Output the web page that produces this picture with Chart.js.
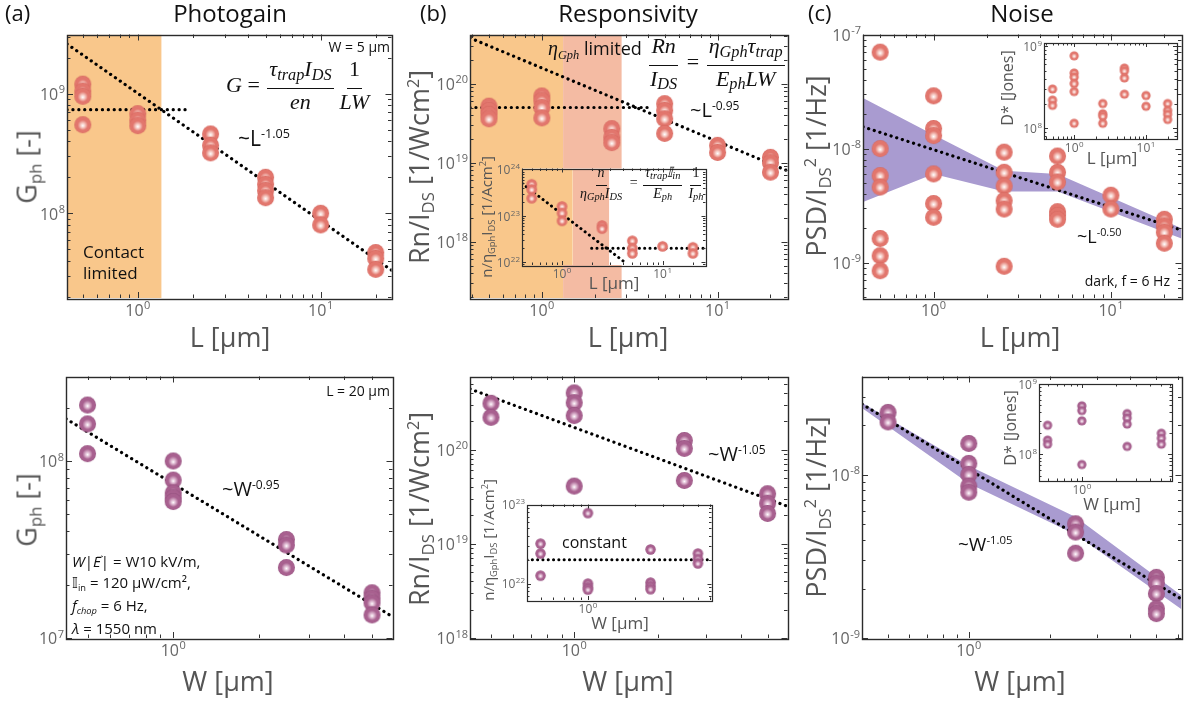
<!DOCTYPE html>
<html>
<head>
<meta charset="utf-8">
<title>Photogain / Responsivity / Noise</title>
<script src="https://cdn.jsdelivr.net/npm/chart.js"></script>
<style>
  body { margin: 0; background: #fff; }
  #fig { position: relative; width: 1192px; height: 704px; overflow: hidden; font-family: 'Open Sans', 'Noto Sans', sans-serif; }
  canvas { position: absolute; }
  .t { position: absolute; white-space: nowrap; line-height: 1; color: #111; z-index: 5; }
  .cx { transform: translateX(-50%); }
  .rot { transform: translate(-50%, -50%) rotate(-90deg); }
  .title { font-size: 24px; }
  .axt { font-size: 27px; color: #555; }
  .iaxt { font-size: 17px; color: #555; }
  .t sub { font-size: 0.62em; position: relative; top: 0.3em; vertical-align: baseline; }
  .t sup { font-size: 0.6em; position: relative; top: -0.62em; vertical-align: baseline; }
  .math { font-family: 'Liberation Serif', 'DejaVu Serif', serif; font-style: italic; display: flex; align-items: center; }
  .math sub { font-size: 0.74em; top: 0.22em; }
  .up { font-style: normal; }
  .frac { display: inline-flex; flex-direction: column; align-items: center; margin: 0 2px; }
  .frac > span { padding: 0 2px; line-height: 1.1; }
  .frac > span:first-child { border-bottom: 1.6px solid #111; padding-bottom: 0.3em; }
  .frac > span:last-child { padding-top: 0.04em; }
  .vec { position: relative; display: inline-block; }
  .vec > b { position: absolute; left: 2px; top: -7px; font-weight: normal; font-style: normal; font-size: 10px; }
</style>
</head>
<body>
<div id="fig">
  <!-- panel titles -->
  <div class="t title" style="left:5px;top:1px;font-size:22px">(a)</div>
  <div class="t title cx" style="left:230px;top:1px">Photogain</div>
  <div class="t title" style="left:420px;top:1px;font-size:22px">(b)</div>
  <div class="t title cx" style="left:628px;top:1px">Responsivity</div>
  <div class="t title" style="left:808px;top:1px;font-size:22px">(c)</div>
  <div class="t title cx" style="left:1022px;top:1px">Noise</div>

  <!-- main axis titles -->
  <div class="t axt cx" style="left:230px;top:323px">L [μm]</div>
  <div class="t axt cx" style="left:628px;top:323px">L [μm]</div>
  <div class="t axt cx" style="left:1020px;top:323px">L [μm]</div>
  <div class="t axt cx" style="left:228px;top:667px">W [μm]</div>
  <div class="t axt cx" style="left:628px;top:667px">W [μm]</div>
  <div class="t axt cx" style="left:1020px;top:667px">W [μm]</div>
  <div class="t axt rot" style="left:26px;top:167px">G<sub>ph</sub> [-]</div>
  <div class="t axt rot" style="left:418px;top:167px">Rn/I<sub>DS</sub> [1/Wcm<sup>2</sup>]</div>
  <div class="t axt rot" style="left:815px;top:166px">PSD/I<sub>DS</sub><sup>2</sup> [1/Hz]</div>
  <div class="t axt rot" style="left:26px;top:510px">G<sub>ph</sub> [-]</div>
  <div class="t axt rot" style="left:418px;top:509px">Rn/I<sub>DS</sub> [1/Wcm<sup>2</sup>]</div>
  <div class="t axt rot" style="left:815px;top:507px">PSD/I<sub>DS</sub><sup>2</sup> [1/Hz]</div>

  <!-- inset axis titles -->
  <div class="t iaxt cx" style="left:614px;top:274px">L [μm]</div>
  <div class="t iaxt rot" style="left:486px;top:217px;font-size:15px">n/η<sub>Gph</sub>I<sub>DS</sub> [1/Acm<sup>2</sup>]</div>
  <div class="t iaxt cx" style="left:1112px;top:149px">L [μm]</div>
  <div class="t iaxt rot" style="left:1007px;top:88px;font-size:16px">D* [Jones]</div>
  <div class="t iaxt cx" style="left:620px;top:614px">W [μm]</div>
  <div class="t iaxt rot" style="left:488px;top:540px;font-size:15px">n/η<sub>Gph</sub>I<sub>DS</sub> [1/Acm<sup>2</sup>]</div>
  <div class="t iaxt cx" style="left:1112px;top:495px">W [μm]</div>
  <div class="t iaxt rot" style="left:1010px;top:428px;font-size:16px">D* [Jones]</div>

  <!-- (a) annotations -->
  <div class="t" style="right:802px;top:40px;font-size:14px">W = 5 μm</div>
  <div class="t math" style="left:226px;top:57px;font-size:22px">
    <i>G</i>&nbsp;<span class="up">=</span>&nbsp;<span class="frac"><span>τ<sub>trap</sub>I<sub>DS</sub></span><span>en</span></span><span class="frac"><span class="up">1</span><span>LW</span></span>
  </div>
  <div class="t" style="left:238px;top:128px;font-size:21px">~L<sup>-1.05</sup></div>
  <div class="t" style="left:83px;top:241px;font-size:17px;line-height:21px">Contact<br>limited</div>
  <div class="t" style="right:802px;top:384px;font-size:14px">L = 20 μm</div>
  <div class="t" style="left:222px;top:479px;font-size:20px">~W<sup>-0.95</sup></div>
  <div class="t" style="left:72px;top:551px;font-size:15px;line-height:21px">
    <i>W</i>|<span class="vec"><i>E</i><b>→</b></span>| = W10 kV/m,<br>𝕀<sub>in</sub> = 120 μW/cm²,<br><i>f<sub>chop</sub></i> = 6 Hz,<br><i>λ</i> = 1550 nm
  </div>

  <!-- (b) annotations -->
  <div class="t" style="left:548px;top:38px;font-size:18px"><span style="font-family:'Liberation Serif',serif;font-style:italic;font-size:20px">η<sub>Gph</sub></span> limited</div>
  <div class="t math" style="left:646px;top:34px;font-size:22px">
    <span class="frac"><span>Rn</span><span>I<sub>DS</sub></span></span>&nbsp;<span class="up">=</span>&nbsp;<span class="frac"><span>η<sub>Gph</sub>τ<sub>trap</sub></span><span>E<sub>ph</sub>LW</span></span>
  </div>
  <div class="t" style="left:690px;top:100px;font-size:20px">~L<sup>-0.95</sup></div>
  <div class="t math" style="left:576px;top:165px;font-size:14px">
    <span class="frac"><span>n</span><span>η<sub>Gph</sub>I<sub>DS</sub></span></span>&nbsp;<span class="up">=</span>&nbsp;<span class="frac"><span>τ<sub>trap</sub>𝕀<sub>in</sub></span><span>E<sub>ph</sub></span></span><span class="frac"><span class="up">1</span><span>I<sub>ph</sub></span></span>
  </div>
  <div class="t" style="left:708px;top:444px;font-size:20px">~W<sup>-1.05</sup></div>
  <div class="t" style="left:562px;top:534px;font-size:16px">constant</div>

  <!-- (c) annotations -->
  <div class="t" style="left:1077px;top:227px;font-size:18px">~L<sup>-0.50</sup></div>
  <div class="t" style="right:22px;top:274px;font-size:14px">dark, f = 6 Hz</div>
  <div class="t" style="left:958px;top:535px;font-size:19px">~W<sup>-1.05</sup></div>
</div>

<script>
// ---------------- data ----------------

// (a) photogain vs L (W = 5 um)
const gL_x = [0.5, 0.5, 0.5, 0.5, 1, 1, 1, 2.5, 2.5, 2.5, 5, 5, 5, 5, 10, 10, 20, 20, 20];
const gL_y = [1.2e9, 1.05e9, 0.95e9, 5.5e8, 6.8e8, 6.0e8, 5.4e8, 4.6e8, 3.7e8, 3.2e8, 2.0e8, 1.75e8, 1.55e8, 1.35e8, 1.0e8, 8.0e7, 4.7e7, 4.2e7, 3.4e7];
const gL_fit_x = [0.41, 24.4];
const gL_fit_y = [2.6e9, 3.35e7];
const gL_flat_x = [0.41, 1.92];
const gL_flat_y = [7.35e8, 7.35e8];
const gL_contact = [0.41, 1.35];

// (b) responsivity vs L
const rL_x = [0.5, 0.5, 0.5, 0.5, 1, 1, 1, 1, 2.5, 2.5, 2.5, 5, 5, 5, 5, 10, 10, 20, 20, 20];
const rL_y = [5.2e19, 4.6e19, 4.1e19, 3.6e19, 7.0e19, 6.1e19, 5.0e19, 3.7e19, 2.7e19, 2.1e19, 1.8e19, 5.6e19, 4.6e19, 3.6e19, 2.35e19, 1.66e19, 1.35e19, 1.17e19, 1.0e19, 7.6e18];
const rL_fit_x = [0.39, 25];
const rL_fit_y = [3.8e20, 7.9e18];
const rL_flat_x = [0.39, 4];
const rL_flat_y = [5e19, 5e19];
const rL_contact = [0.39, 1.32];
const rL_eta = [1.32, 2.85];

// (b) inset: n / eta I_DS vs L
const nL_x = [0.5, 0.5, 0.5, 1, 1, 1, 2.5, 2.5, 5, 5, 5, 10, 20, 20];
const nL_y = [4.8e23, 3.7e23, 2.4e23, 1.6e23, 1.15e23, 7.8e22, 6.2e22, 5.3e22, 2.9e22, 2.0e22, 1.55e22, 2.2e22, 2.1e22, 1.55e22];
const nL_fit_x = [0.4, 4.2];
const nL_fit_y = [5e23, 1e22];
const nL_flat_x = [1.97, 26.7];
const nL_flat_y = [2e22, 2e22];
const nL_contact = [0.4, 1.28];
const nL_eta = [1.28, 2.95];

// (c) noise vs L
const pL_x = [0.5, 0.5, 0.5, 0.5, 0.5, 0.5, 0.5, 1, 1, 1, 1, 1, 1, 2.5, 2.5, 2.5, 2.5, 2.5, 2.5, 5, 5, 5, 5, 5, 5, 10, 10, 20, 20, 20, 20];
const pL_y = [7e-8, 1e-8, 5.8e-9, 4.6e-9, 1.63e-9, 1.15e-9, 8.5e-10, 2.9e-8, 1.5e-8, 1.3e-8, 6e-9, 3.3e-9, 2.5e-9, 9.3e-9, 6.2e-9, 4.7e-9, 3.5e-9, 2.95e-9, 9.3e-10, 8.6e-9, 6.2e-9, 5.1e-9, 2.8e-9, 2.6e-9, 2.4e-9, 3.9e-9, 2.95e-9, 2.4e-9, 2.1e-9, 1.85e-9, 1.48e-9];
const pL_fit_x = [0.4, 25];
const pL_fit_y = [1.55e-8, 1.93e-9];
const pL_band_x = [0.4, 1, 2.5, 5, 25];
const pL_band_hi = [2.77e-8, 1.32e-8, 6.4e-9, 6e-9, 2e-9];
const pL_band_lo = [3.4e-9, 6e-9, 4.2e-9, 4.2e-9, 1.63e-9];

// (c) inset: D* vs L
const dL_x = [0.5, 0.5, 0.5, 1, 1, 1, 1, 1, 1, 2.5, 2.5, 2.5, 2.5, 5, 5, 5, 5, 10, 10, 20, 20, 20, 20];
const dL_y = [3e8, 2.2e8, 1.9e8, 7.6e8, 4.7e8, 4.2e8, 3.5e8, 2.8e8, 1.15e8, 2e8, 1.5e8, 1.4e8, 1.15e8, 5.4e8, 5e8, 4.1e8, 2.6e8, 2.5e8, 1.85e8, 2e8, 1.65e8, 1.48e8, 1.28e8];

// (a) photogain vs W (L = 20 um)
const gW_x = [0.5, 0.5, 0.5, 1, 1, 1, 1, 1, 2.5, 2.5, 2.5, 5, 5, 5, 5];
const gW_y = [2.07e8, 1.62e8, 1.1e8, 1e8, 7.8e7, 6.6e7, 6.2e7, 5.9e7, 3.6e7, 3.35e7, 2.5e7, 1.8e7, 1.68e7, 1.58e7, 1.35e7];
const gW_fit_x = [0.42, 5.9];
const gW_fit_y = [1.73e8, 1.32e7];

// (b) responsivity vs W
const rW_x = [0.5, 0.5, 1, 1, 1, 1, 2.5, 2.5, 2.5, 5, 5, 5];
const rW_y = [3.1e20, 2.2e20, 4e20, 3.15e20, 2.3e20, 4.1e19, 1.25e20, 1.03e20, 4.7e19, 3.4e19, 2.7e19, 2.1e19];
const rW_fit_x = [0.42, 5.9];
const rW_fit_y = [4.4e20, 2.5e19];

// (b) inset: n / eta I_DS vs W
const nW_x = [0.5, 0.5, 0.5, 1, 1, 1, 1, 2.5, 2.5, 2.5, 2.5, 5, 5, 5];
const nW_y = [3.2e22, 2.4e22, 1.26e22, 7.8e22, 1e22, 9e21, 8.4e21, 2.7e22, 1.03e22, 9.3e21, 8.5e21, 2.4e22, 2.05e22, 1.8e22];
const nW_flat_x = [0.41, 6.1];
const nW_flat_y = [2e22, 2e22];

// (c) noise vs W
const pW_x = [0.5, 0.5, 1, 1, 1, 1, 1, 2.5, 2.5, 2.5, 5, 5, 5, 5, 5];
const pW_y = [2.4e-8, 2.1e-8, 1.55e-8, 1.17e-8, 1e-8, 8.5e-9, 7.8e-9, 5e-9, 4.45e-9, 3.3e-9, 2.35e-9, 2.17e-9, 1.87e-9, 1.51e-9, 1.41e-9];
const pW_fit_x = [0.4, 6.2];
const pW_fit_y = [2.7e-8, 1.73e-9];
const pW_band_x = [0.4, 1, 2.5, 6.2];
const pW_band_hi = [2.75e-8, 1.13e-8, 5.5e-9, 1.82e-9];
const pW_band_lo = [2.55e-8, 8.8e-9, 4.3e-9, 1.5e-9];

// (c) inset: D* vs W
const dW_x = [0.5, 0.5, 0.5, 1, 1, 1, 1, 2.5, 2.5, 2.5, 2.5, 5, 5, 5];
const dW_y = [2.6e8, 1.6e8, 1.4e8, 4.9e8, 4.2e8, 3e8, 7.2e7, 3.8e8, 3.3e8, 2.7e8, 1.3e8, 2e8, 1.7e8, 1.4e8];

// ---------------- styling helpers ----------------
const ORANGE = '#f9c78b';
const SALMON = '#f4bba3';
const LAVENDER = '#a99bd0';

function sphere(light, base, edge, r) {
  const c = document.createElement('canvas');
  const s = Math.ceil(r * 2) + 2;
  c.width = s; c.height = s;
  const g = c.getContext('2d');
  const m = s / 2;
  const grad = g.createRadialGradient(m, m + r * 0.12, 0, m, m, r);
  grad.addColorStop(0, '#ffffff');
  grad.addColorStop(0.22, light);
  grad.addColorStop(0.6, base);
  grad.addColorStop(0.88, base);
  grad.addColorStop(1, edge);
  g.fillStyle = grad;
  g.beginPath();
  g.arc(m, m, r, 0, Math.PI * 2);
  g.fill();
  return c;
}
const CORAL = sphere('#f8d3cd', '#e2766d', '#d4645c', 8.5);
const CORAL_S = sphere('#f8d3cd', '#e2766d', '#d4645c', 5.3);
const CORAL_XS = sphere('#f8d3cd', '#e2766d', '#d4645c', 4.6);
const MAUVE = sphere('#e4c3d8', '#a8608f', '#924d7c', 8.5);
const MAUVE_S = sphere('#e4c3d8', '#a8608f', '#924d7c', 5.2);
const MAUVE_XS = sphere('#e4c3d8', '#a8608f', '#924d7c', 4.6);

function P(xs, ys) { return xs.map((x, i) => ({ x: x, y: ys[i] })); }
function pts(xs, ys, img) {
  return { data: P(xs, ys), pointStyle: img, pointRadius: img.width / 2, showLine: false, order: 0 };
}
function dots(xs, ys, w, gap) {
  return { data: P(xs, ys), showLine: true, borderColor: '#000', borderWidth: w || 3.2,
    borderDash: [0.1, gap || 5.8], borderCapStyle: 'round', pointRadius: 0, fill: false, order: 1 };
}
function shade(xr, ytop, color) {
  return { data: P(xr, [ytop, ytop]), showLine: true, borderWidth: 0, borderColor: 'rgba(0,0,0,0)',
    pointRadius: 0, fill: 'start', backgroundColor: color, order: 3 };
}
function band(xs, hi, lo, color) {
  return [
    { data: P(xs, hi), showLine: true, borderWidth: 0, borderColor: 'rgba(0,0,0,0)', pointRadius: 0, fill: '+1', backgroundColor: color, order: 2 },
    { data: P(xs, lo), showLine: true, borderWidth: 0, borderColor: 'rgba(0,0,0,0)', pointRadius: 0, fill: false, order: 2 }
  ];
}

function logTicks(min, max) {
  const out = [];
  for (let k = Math.floor(Math.log10(min)); k <= Math.ceil(Math.log10(max)); k++) {
    for (let m = 1; m <= 9; m++) {
      const v = m * Math.pow(10, k);
      if (v >= min * 0.999 && v <= max * 1.001) out.push({ v: v, k: k, major: m === 1 });
    }
  }
  return out;
}

function drawPow(ctx, k, x, y, align, fs, ss) {
  const fam = '"Open Sans", sans-serif';
  ctx.font = fs + 'px ' + fam;
  const w1 = ctx.measureText('10').width;
  ctx.font = ss + 'px ' + fam;
  const e = String(k);
  const w2 = ctx.measureText(e).width;
  const total = w1 + w2 + 0.5;
  const x0 = align === 'right' ? x - total : x - total / 2;
  ctx.textAlign = 'left';
  ctx.textBaseline = 'alphabetic';
  ctx.font = fs + 'px ' + fam;
  ctx.fillText('10', x0, y);
  ctx.font = ss + 'px ' + fam;
  ctx.fillText(e, x0 + w1 + 0.5, y - fs * 0.42);
}

// box frame, inward ticks on all sides, 10^n tick labels
const framePlugin = {
  id: 'frame',
  beforeDraw(chart, args, o) {
    if (!o.bg) return;
    const a = chart.chartArea, ctx = chart.ctx;
    ctx.save();
    ctx.fillStyle = o.bg;
    ctx.fillRect(a.left, a.top, a.right - a.left, a.bottom - a.top);
    ctx.restore();
  },
  afterDraw(chart, args, o) {
    const ctx = chart.ctx, a = chart.chartArea;
    const xs = chart.scales.x, ys = chart.scales.y;
    ctx.save();
    ctx.strokeStyle = '#333';
    ctx.lineWidth = 1;
    ctx.beginPath();
    logTicks(xs.min, xs.max).forEach(t => {
      const p = Math.round(xs.getPixelForValue(t.v)) + 0.5;
      const len = t.major ? o.major : o.minor;
      ctx.moveTo(p, a.bottom); ctx.lineTo(p, a.bottom - len);
      ctx.moveTo(p, a.top); ctx.lineTo(p, a.top + len);
    });
    logTicks(ys.min, ys.max).forEach(t => {
      const p = Math.round(ys.getPixelForValue(t.v)) + 0.5;
      const len = t.major ? o.major : o.minor;
      ctx.moveTo(a.left, p); ctx.lineTo(a.left + len, p);
      ctx.moveTo(a.right, p); ctx.lineTo(a.right - len, p);
    });
    ctx.stroke();
    ctx.lineWidth = o.lw;
    ctx.strokeStyle = '#2b2b2b';
    ctx.strokeRect(Math.round(a.left) + 0.5, Math.round(a.top) + 0.5, Math.round(a.right - a.left), Math.round(a.bottom - a.top));
    ctx.fillStyle = '#666';
    logTicks(xs.min, xs.max).filter(t => t.major).forEach(t => {
      drawPow(ctx, t.k, xs.getPixelForValue(t.v), a.bottom + o.gap + o.fs * 0.72, 'center', o.fs, o.ss);
    });
    logTicks(ys.min, ys.max).filter(t => t.major).forEach(t => {
      drawPow(ctx, t.k, a.left - 2, ys.getPixelForValue(t.v) + o.fs * 0.4, 'right', o.fs, o.ss);
    });
    ctx.restore();
  }
};

const fig = document.getElementById('fig');

function plot(rect, pad, xr, yr, datasets, frame) {
  const cv = document.createElement('canvas');
  const w = rect[2] + pad[0] + pad[2];
  const h = rect[3] + pad[1] + pad[3];
  cv.width = w; cv.height = h;
  cv.style.left = (rect[0] - pad[0]) + 'px';
  cv.style.top = (rect[1] - pad[1]) + 'px';
  cv.style.width = w + 'px';
  cv.style.height = h + 'px';
  cv.style.zIndex = frame.z || 1;
  fig.appendChild(cv);
  return new Chart(cv, {
    type: 'scatter',
    data: { datasets: datasets },
    options: {
      responsive: false,
      animation: false,
      devicePixelRatio: 1,
      events: [],
      layout: { padding: { left: pad[0], top: pad[1], right: pad[2], bottom: pad[3] } },
      plugins: { legend: { display: false }, tooltip: { enabled: false }, frame: frame },
      scales: {
        x: { type: 'logarithmic', min: xr[0], max: xr[1], display: false },
        y: { type: 'logarithmic', min: yr[0], max: yr[1], display: false }
      }
    },
    plugins: [framePlugin]
  });
}

const MAIN = { lw: 1.4, major: 6, minor: 3.5, fs: 16, ss: 11, gap: 6 };
const INSET = { lw: 1.2, major: 4, minor: 2.5, fs: 12, ss: 8, gap: 4, bg: '#ffffff', z: 2 };
const PADM = [62, 10, 10, 30];
const PADI = [44, 6, 4, 20];

// ---- top row ----
plot([67, 34, 325, 264], PADM, [0.41, 24.4], [1.96e7, 3.12e9], [
  shade(gL_contact, 3.12e9, ORANGE),
  dots(gL_fit_x, gL_fit_y),
  dots(gL_flat_x, gL_flat_y),
  pts(gL_x, gL_y, CORAL)
], MAIN);

plot([470, 34, 318, 264], PADM, [0.39, 25], [1.94e17, 4.2e20], [
  shade(rL_contact, 4.2e20, ORANGE),
  shade(rL_eta, 4.2e20, SALMON),
  dots(rL_fit_x, rL_fit_y),
  dots(rL_flat_x, rL_flat_y),
  pts(rL_x, rL_y, CORAL)
], MAIN);

plot([522, 167, 187, 98], PADI, [0.4, 26.7], [8.7e21, 1.05e24], [
  shade(nL_contact, 1.05e24, ORANGE),
  shade(nL_eta, 1.05e24, SALMON),
  dots(nL_fit_x, nL_fit_y, 3, 5.2),
  dots(nL_flat_x, nL_flat_y, 3, 5.2),
  pts(nL_x, nL_y, CORAL_S)
], INSET);

plot([863, 34, 319, 264], PADM, [0.4, 25], [4.9e-10, 1.0e-7], [
  ...band(pL_band_x, pL_band_hi, pL_band_lo, LAVENDER),
  dots(pL_fit_x, pL_fit_y),
  pts(pL_x, pL_y, CORAL)
], MAIN);

plot([1044, 42, 136, 97], PADI, [0.38, 27], [7.4e7, 1.09e9], [
  pts(dL_x, dL_y, CORAL_XS)
], INSET);

// ---- bottom row ----
plot([66, 376, 327, 262], PADM, [0.42, 5.9], [1e7, 3e8], [
  dots(gW_fit_x, gW_fit_y),
  pts(gW_x, gW_y, MAUVE)
], MAIN);

plot([470, 376, 318, 262], PADM, [0.42, 5.9], [1e18, 5.97e20], [
  dots(rW_fit_x, rW_fit_y),
  pts(rW_x, rW_y, MAUVE)
], MAIN);

plot([527, 503, 188, 97], PADI, [0.41, 6.1], [6.2e21, 1e23], [
  dots(nW_flat_x, nW_flat_y, 3, 5.2),
  pts(nW_x, nW_y, MAUVE_S)
], INSET);

plot([862, 376, 320, 262], PADM, [0.4, 6.2], [1e-9, 3.98e-8], [
  ...band(pW_band_x, pW_band_hi, pW_band_lo, LAVENDER),
  dots(pW_fit_x, pW_fit_y),
  pts(pW_x, pW_y, MAUVE)
], MAIN);

plot([1039, 383, 136, 98], PADI, [0.42, 6.2], [4.2e7, 1e9], [
  pts(dW_x, dW_y, MAUVE_XS)
], INSET);
</script>
</body>
</html>
